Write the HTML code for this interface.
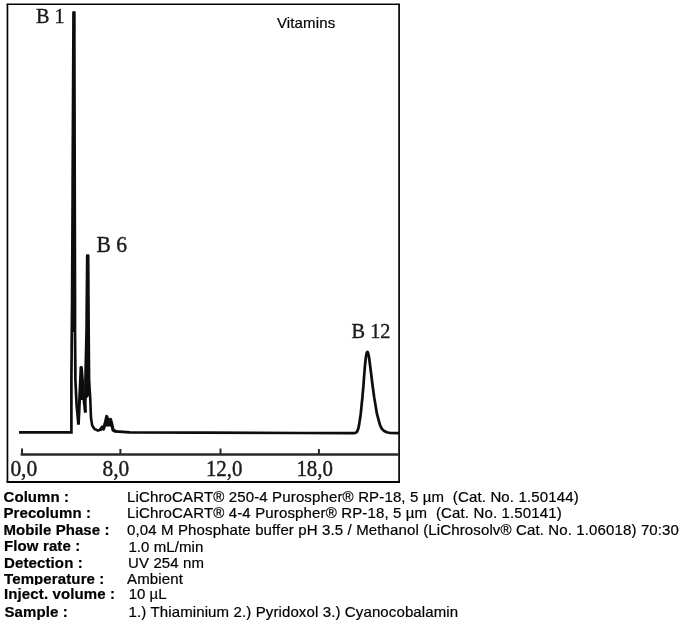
<!DOCTYPE html>
<html><head><meta charset="utf-8"><title>Vitamins</title>
<style>
html,body{margin:0;padding:0;background:#fff;}
body{width:684px;height:625px;position:relative;overflow:hidden;font-family:"Liberation Sans",Arial,sans-serif;color:#000;}
#chart{position:absolute;left:0;top:0;}
.t{position:absolute;font-size:15px;line-height:17px;height:17px;white-space:pre;letter-spacing:0.13px;-webkit-text-stroke:0.2px #000;}
.b{font-weight:bold;left:4px;letter-spacing:0.12px;}
.v{left:127px;}
svg text{font-family:"Liberation Serif","Times New Roman",serif;font-size:22px;fill:#1a1a1a;stroke:#1a1a1a;stroke-width:0.4px;}
</style></head><body>
<svg id="chart" width="684" height="490" viewBox="0 0 684 490">
<defs><filter id="soft" x="-5%" y="-5%" width="110%" height="110%"><feGaussianBlur stdDeviation="0.35"/></filter></defs>
<g fill="none" stroke="#050505">
<path d="M6.6 4.2 H400" stroke-width="1.6"/>
<path d="M7.45 4 V482.5" stroke-width="1.7"/>
<path d="M399.1 4 V482.5" stroke-width="1.7"/>
<path d="M6.6 481.9 H400" stroke-width="2"/>
</g>
<g filter="url(#soft)">
<g fill="none" stroke="#0a0a0a" stroke-linejoin="round" stroke-linecap="butt">
<path d="M19 432.4 L70.5 432.4" stroke-width="2.9"/>
<path d="M71.4 433.8 L71.4 380 L72.1 300 L73.5 11.5" stroke-width="2.7"/>
<path d="M74.3 11.5 L75 300 L75 332 L75.4 380 L76.6 405 L78.4 424.5" stroke-width="2.7"/>
<path d="M73.5 11.5 L74.3 11.5 L75 332 L72 332 Z" fill="#0a0a0a" stroke="none"/>
<path d="M78.4 424.5 L79.8 395 L81 367.5 L81.4 367.5 L82.8 385 L84.2 402 L85.4 412.5" stroke-width="3"/>
<path d="M85.4 412.5 L85.4 380 L86.5 330 L87.2 255.5 L88.2 255.5 L88.7 330 L89.1 380 L90.3 400 L91 418 L92.2 425.5 L94.5 429 L98 430.6 L101 429.5" stroke-width="2.6"/>
<path d="M85.4 400 L85.4 380 L86.5 330 L87.2 255.5 L88.2 255.5 L88.7 330 L89.1 380 L89.6 395 Z" fill="#0a0a0a" stroke="none"/>
<path d="M100 430 L101 429 L102 427.2 L103.5 429 L105 424 L106.7 416.5 L108.3 420.5 L110.5 419.5 L111.8 424 L113 430 L116 431.6" stroke-width="3.2"/>
<path d="M81 367.5 L81.4 367.5 L84 400 L79.6 400 Z" fill="#0a0a0a" stroke="none"/>
<path d="M105.2 424 L106.7 416.5 L108.3 420.5 L110.5 419.5 L111.6 424 L111.3 426.5 L105.5 426.5 Z" fill="#0a0a0a" stroke="none"/>
<path d="M115 431.4 L130 432.3 L200 432.6 L300 433 L353 433.2 L355.2 433 L356.4 432.4 L357.4 431 L358.3 428.5 L359 425.4 L360.7 414.2 L362.4 397.4 L363.5 385 L364.2 375 L365.2 363 L366 356.5 L366.7 353 L367.4 351.8 L368.1 353 L368.9 356.5 L369.8 363 L371.3 375 L372.5 385 L374.2 397.4 L377 414.2 L380.1 425.4 L382 429 L384.2 431 L386.8 432.3 L390 433 L399 433.2" stroke-width="2.7"/>
</g>
<g fill="none" stroke="#2a2a2a">
<path d="M20.6 454.4 L399 454.4" stroke-width="2.5"/>
<path d="M22 448.4 V455 M120.4 449 V454 M220.5 448.6 V454 M318.9 449 V454" stroke-width="2"/>
</g>
<text transform="matrix(0.917 0 0 0.989 35.91 23.4)">B 1</text>
<text transform="matrix(0.982 0 0 1.011 96.56 251.6)">B 6</text>
<text transform="matrix(0.924 0 0 0.982 351.51 338.4)">B 12</text>
<text transform="matrix(0.975 0 0 1.05 10.4 476)">0,0</text>
<text transform="matrix(0.97 0 0 1.06 102.5 476)">8,0</text>
<text transform="matrix(0.95 0 0 1.055 205.9 476.2)">12,0</text>
<text transform="matrix(0.95 0 0 1.055 296.4 476.2)">18,0</text>
</g>
</svg>
<div class="t" style="left:277px;top:14px;">Vitamins</div>

<div class="t b" style="top:488px;left:3.5px;letter-spacing:0.07px;">Column :</div>
<div class="t v" style="top:488px;letter-spacing:0.145px;">LiChroCART® 250-4 Purospher® RP-18, 5 µm  (Cat. No. 1.50144)</div>
<div class="t b" style="top:504px;left:3.5px;letter-spacing:0.07px;">Precolumn :</div>
<div class="t v" style="top:504px;letter-spacing:0.145px;">LiChroCART® 4-4 Purospher® RP-18, 5 µm  (Cat. No. 1.50141)</div>
<div class="t b" style="top:521px;left:3.5px;letter-spacing:0.07px;">Mobile Phase :</div>
<div class="t v" style="top:521px;">0,04 M Phosphate buffer pH 3.5 / Methanol (LiChrosolv® Cat. No. 1.06018) 70:30</div>
<div class="t b" style="top:537px;">Flow rate :</div>
<div class="t v" style="top:538px;left:128.4px;letter-spacing:0.08px;">1.0 mL/min</div>
<div class="t b" style="top:554px;">Detection :</div>
<div class="t v" style="top:554px;left:128px;">UV 254 nm</div>
<div class="t b" style="top:570px;">Temperature :</div>
<div class="t v" style="top:570px;">Ambient</div>
<div class="t b" style="top:585px;background:#fff;">Inject. volume :</div>
<div class="t v" style="top:585px;left:128.7px;background:#fff;letter-spacing:0;">10 µL</div>
<div class="t b" style="top:603px;left:4.5px;">Sample :</div>
<div class="t v" style="top:603px;left:128.6px;letter-spacing:0.12px;">1.) Thiaminium 2.) Pyridoxol 3.) Cyanocobalamin</div>
</body></html>
